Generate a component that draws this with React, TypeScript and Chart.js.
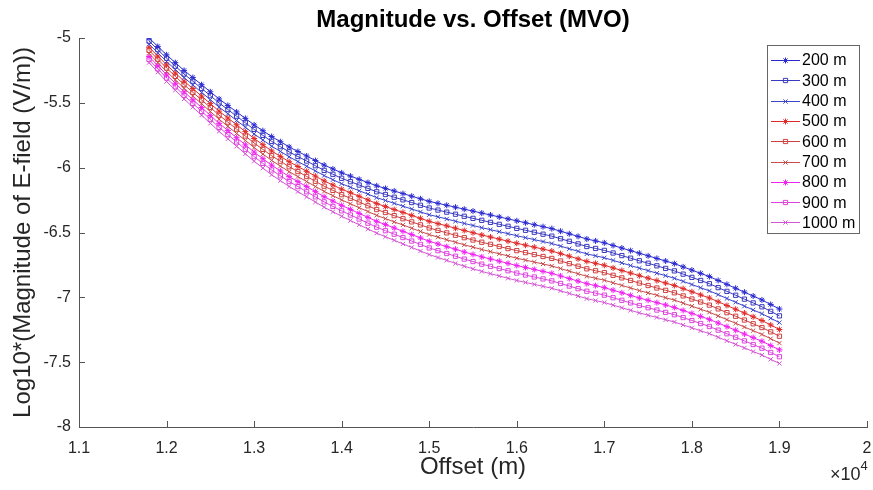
import React, { useEffect, useRef } from "react";
import { Chart, registerables } from "chart.js";

Chart.register(...registerables);

// Offsets (m)
const OFFSETS = [
  11800, 11900, 12000, 12100, 12200, 12300, 12400, 12500, 12600, 12700,
  12800, 12900, 13000, 13100, 13200, 13300, 13400, 13500, 13600, 13700,
  13800, 13900, 14000, 14100, 14200, 14300, 14400, 14500, 14600, 14700,
  14800, 14900, 15000, 15100, 15200, 15300, 15400, 15500, 15600, 15700,
  15800, 15900, 16000, 16100, 16200, 16300, 16400, 16500, 16600, 16700,
  16800, 16900, 17000, 17100, 17200, 17300, 17400, 17500, 17600, 17700,
  17800, 17900, 18000, 18100, 18200, 18300, 18400, 18500, 18600, 18700,
  18800, 18900, 19000,
];

const S200 = [
  -5.000, -5.065, -5.130, -5.190, -5.250, -5.305, -5.360, -5.415, -5.470, -5.520,
  -5.570, -5.620, -5.670, -5.715, -5.760, -5.800, -5.840, -5.875, -5.910, -5.945,
  -5.980, -6.010, -6.040, -6.065, -6.090, -6.115, -6.140, -6.160, -6.180, -6.200,
  -6.220, -6.240, -6.260, -6.275, -6.290, -6.305, -6.320, -6.335, -6.350, -6.365,
  -6.380, -6.395, -6.410, -6.425, -6.440, -6.455, -6.470, -6.490, -6.510, -6.530,
  -6.550, -6.565, -6.580, -6.600, -6.620, -6.640, -6.660, -6.680, -6.700, -6.720,
  -6.740, -6.765, -6.790, -6.815, -6.840, -6.870, -6.900, -6.930, -6.960, -6.990,
  -7.020, -7.055, -7.090,
];
const S300 = [
  -5.024, -5.090, -5.156, -5.217, -5.278, -5.333, -5.389, -5.445, -5.501, -5.552,
  -5.603, -5.654, -5.705, -5.751, -5.797, -5.838, -5.878, -5.914, -5.949, -5.985,
  -6.021, -6.051, -6.082, -6.108, -6.134, -6.160, -6.186, -6.207, -6.228, -6.248,
  -6.269, -6.290, -6.311, -6.327, -6.343, -6.359, -6.375, -6.391, -6.406, -6.422,
  -6.437, -6.452, -6.468, -6.483, -6.498, -6.513, -6.528, -6.548, -6.568, -6.588,
  -6.608, -6.623, -6.638, -6.658, -6.678, -6.698, -6.718, -6.737, -6.757, -6.777,
  -6.796, -6.821, -6.846, -6.870, -6.895, -6.925, -6.954, -6.984, -7.014, -7.043,
  -7.073, -7.108, -7.143,
];
const S400 = [
  -5.048, -5.114, -5.181, -5.243, -5.305, -5.362, -5.419, -5.476, -5.533, -5.584,
  -5.636, -5.688, -5.740, -5.787, -5.834, -5.875, -5.916, -5.953, -5.989, -6.025,
  -6.061, -6.093, -6.124, -6.151, -6.178, -6.204, -6.231, -6.253, -6.275, -6.297,
  -6.319, -6.341, -6.363, -6.379, -6.396, -6.413, -6.430, -6.446, -6.463, -6.478,
  -6.494, -6.509, -6.525, -6.540, -6.555, -6.570, -6.585, -6.605, -6.625, -6.645,
  -6.665, -6.680, -6.695, -6.715, -6.735, -6.755, -6.775, -6.794, -6.814, -6.833,
  -6.853, -6.877, -6.901, -6.926, -6.950, -6.979, -7.009, -7.038, -7.068, -7.097,
  -7.126, -7.161, -7.195,
];
const S500 = [
  -5.071, -5.139, -5.207, -5.270, -5.333, -5.390, -5.448, -5.506, -5.564, -5.617,
  -5.669, -5.722, -5.775, -5.823, -5.871, -5.913, -5.954, -5.991, -6.028, -6.065,
  -6.102, -6.134, -6.166, -6.193, -6.221, -6.249, -6.277, -6.300, -6.323, -6.345,
  -6.368, -6.391, -6.414, -6.432, -6.449, -6.467, -6.485, -6.502, -6.519, -6.535,
  -6.551, -6.567, -6.583, -6.598, -6.613, -6.628, -6.643, -6.663, -6.683, -6.703,
  -6.723, -6.738, -6.753, -6.773, -6.793, -6.813, -6.833, -6.852, -6.871, -6.890,
  -6.909, -6.933, -6.957, -6.981, -7.005, -7.034, -7.063, -7.092, -7.121, -7.150,
  -7.179, -7.213, -7.248,
];
const S600 = [
  -5.095, -5.164, -5.232, -5.296, -5.360, -5.419, -5.478, -5.536, -5.595, -5.649,
  -5.703, -5.756, -5.810, -5.859, -5.908, -5.950, -5.993, -6.030, -6.068, -6.105,
  -6.143, -6.175, -6.208, -6.236, -6.265, -6.294, -6.323, -6.346, -6.370, -6.394,
  -6.418, -6.441, -6.465, -6.484, -6.503, -6.521, -6.540, -6.558, -6.575, -6.591,
  -6.608, -6.624, -6.640, -6.655, -6.670, -6.685, -6.700, -6.720, -6.740, -6.760,
  -6.780, -6.795, -6.810, -6.830, -6.850, -6.870, -6.890, -6.909, -6.928, -6.946,
  -6.965, -6.989, -7.013, -7.036, -7.060, -7.089, -7.118, -7.146, -7.175, -7.204,
  -7.233, -7.266, -7.300,
];
const S700 = [
  -5.119, -5.189, -5.258, -5.323, -5.388, -5.447, -5.507, -5.567, -5.626, -5.681,
  -5.736, -5.790, -5.845, -5.895, -5.944, -5.988, -6.031, -6.069, -6.107, -6.145,
  -6.183, -6.216, -6.249, -6.279, -6.309, -6.338, -6.368, -6.393, -6.418, -6.442,
  -6.467, -6.492, -6.516, -6.536, -6.556, -6.575, -6.595, -6.613, -6.631, -6.648,
  -6.664, -6.681, -6.698, -6.713, -6.728, -6.743, -6.758, -6.778, -6.798, -6.818,
  -6.838, -6.853, -6.868, -6.888, -6.908, -6.928, -6.948, -6.966, -6.984, -7.003,
  -7.021, -7.045, -7.068, -7.092, -7.115, -7.143, -7.172, -7.200, -7.229, -7.257,
  -7.286, -7.319, -7.353,
];
const S800 = [
  -5.143, -5.213, -5.284, -5.349, -5.415, -5.476, -5.536, -5.597, -5.658, -5.713,
  -5.769, -5.824, -5.880, -5.931, -5.981, -6.025, -6.069, -6.108, -6.146, -6.185,
  -6.224, -6.258, -6.291, -6.322, -6.353, -6.383, -6.414, -6.439, -6.465, -6.491,
  -6.516, -6.542, -6.568, -6.588, -6.609, -6.629, -6.650, -6.669, -6.688, -6.704,
  -6.721, -6.738, -6.755, -6.770, -6.785, -6.800, -6.815, -6.835, -6.855, -6.875,
  -6.895, -6.910, -6.925, -6.945, -6.965, -6.985, -7.005, -7.023, -7.041, -7.059,
  -7.078, -7.101, -7.124, -7.147, -7.170, -7.198, -7.226, -7.254, -7.283, -7.311,
  -7.339, -7.372, -7.405,
];
const S900 = [
  -5.166, -5.238, -5.309, -5.376, -5.443, -5.504, -5.566, -5.627, -5.689, -5.745,
  -5.802, -5.858, -5.915, -5.967, -6.018, -6.063, -6.107, -6.146, -6.186, -6.225,
  -6.264, -6.299, -6.333, -6.365, -6.396, -6.428, -6.459, -6.486, -6.513, -6.539,
  -6.566, -6.592, -6.619, -6.640, -6.662, -6.683, -6.705, -6.724, -6.744, -6.761,
  -6.778, -6.795, -6.813, -6.828, -6.843, -6.858, -6.873, -6.893, -6.913, -6.933,
  -6.953, -6.968, -6.983, -7.003, -7.023, -7.043, -7.063, -7.080, -7.098, -7.116,
  -7.134, -7.156, -7.179, -7.202, -7.225, -7.253, -7.281, -7.308, -7.336, -7.364,
  -7.392, -7.425, -7.458,
];
const S1000 = [
  -5.190, -5.263, -5.335, -5.403, -5.470, -5.533, -5.595, -5.658, -5.720, -5.778,
  -5.835, -5.893, -5.950, -6.003, -6.055, -6.100, -6.145, -6.185, -6.225, -6.265,
  -6.305, -6.340, -6.375, -6.408, -6.440, -6.473, -6.505, -6.533, -6.560, -6.588,
  -6.615, -6.643, -6.670, -6.693, -6.715, -6.738, -6.760, -6.780, -6.800, -6.818,
  -6.835, -6.853, -6.870, -6.885, -6.900, -6.915, -6.930, -6.950, -6.970, -6.990,
  -7.010, -7.025, -7.040, -7.060, -7.080, -7.100, -7.120, -7.138, -7.155, -7.173,
  -7.190, -7.213, -7.235, -7.258, -7.280, -7.308, -7.335, -7.363, -7.390, -7.418,
  -7.445, -7.478, -7.510,
];

const SERIES = [S200, S300, S400, S500, S600, S700, S800, S900, S1000];
const SERIES_NAMES = ["200 m", "300 m", "400 m", "500 m", "600 m", "700 m", "800 m", "900 m", "1000 m"];

const TITLE = "Magnitude vs. Offset (MVO)";
const X_TITLE = "Offset (m)";
const Y_TITLE = "Log10*(Magnitude of E-field (V/m))";
const X_MIN = 11000;
const X_MAX = 20000;
const X_STEP = 1000;
const Y_MIN = -8;
const Y_MAX = -5;
const Y_STEP = 0.5;

const COLORS = ["#2a2ad0", "#3a3ac0", "#3a44cc", "#e02a2a", "#d04040", "#c84c4c", "#ee22ee", "#dd44dd", "#d455d4"];
const MARKERS = ["star", "rect", "crossRot", "star", "rect", "crossRot", "star", "rect", "crossRot"];

const FONT = '"Liberation Sans", Arial, Helvetica, sans-serif';
const TEXT_COLOR = "#262626";
const AXIS_COLOR = "#555555";

function drawMarker(ctx: CanvasRenderingContext2D, style: string, x: number, y: number, r: number, color: string) {
  ctx.save();
  ctx.strokeStyle = color;
  ctx.lineWidth = 1;
  ctx.beginPath();
  if (style === "star") {
    ctx.moveTo(x - r, y); ctx.lineTo(x + r, y);
    ctx.moveTo(x, y - r); ctx.lineTo(x, y + r);
    const d = r * Math.SQRT1_2;
    ctx.moveTo(x - d, y - d); ctx.lineTo(x + d, y + d);
    ctx.moveTo(x - d, y + d); ctx.lineTo(x + d, y - d);
  } else if (style === "rect") {
    const s = r * Math.SQRT1_2;
    ctx.rect(x - s, y - s, 2 * s, 2 * s);
  } else {
    const d = r * Math.SQRT1_2;
    ctx.moveTo(x - d, y - d); ctx.lineTo(x + d, y + d);
    ctx.moveTo(x - d, y + d); ctx.lineTo(x + d, y - d);
  }
  ctx.stroke();
  ctx.restore();
}

const overlayPlugin = {
  id: "overlay",
  afterDraw(chart: any) {
    const ctx: CanvasRenderingContext2D = chart.ctx;
    const area = chart.chartArea;
    const xs = chart.scales.x;
    const ys = chart.scales.y;
    ctx.save();

    // inward tick marks
    ctx.strokeStyle = AXIS_COLOR;
    ctx.lineWidth = 1;
    ctx.beginPath();
    xs.ticks.forEach((t: any) => {
      const px = Math.round(xs.getPixelForValue(t.value)) + 0.5;
      ctx.moveTo(px, area.bottom);
      ctx.lineTo(px, area.bottom - 6);
    });
    ys.ticks.forEach((t: any) => {
      const py = Math.round(ys.getPixelForValue(t.value)) + 0.5;
      ctx.moveTo(area.left, py);
      ctx.lineTo(area.left + 6, py);
    });
    ctx.stroke();

    // title
    ctx.fillStyle = "#000";
    ctx.textAlign = "center";
    ctx.textBaseline = "middle";
    ctx.font = `bold 24px ${FONT}`;
    ctx.fillText(TITLE, (area.left + area.right) / 2, 20);

    // x title
    ctx.fillStyle = TEXT_COLOR;
    ctx.font = `24px ${FONT}`;
    ctx.fillText(X_TITLE, (area.left + area.right) / 2, 467);

    // y title
    ctx.save();
    ctx.translate(23, (area.top + area.bottom) / 2);
    ctx.rotate(-Math.PI / 2);
    ctx.fillText(Y_TITLE, 0, 0);
    ctx.restore();

    // exponent
    ctx.textAlign = "left";
    ctx.textBaseline = "alphabetic";
    ctx.font = `18px ${FONT}`;
    const base = "\u00d710";
    ctx.fillText(base, 830, 480);
    const w = ctx.measureText(base).width;
    ctx.font = `13px ${FONT}`;
    ctx.fillText("4", 830 + w, 470);

    // legend
    const lx = 767, ly = 45, lw = 92, lh = 188;
    ctx.fillStyle = "#fff";
    ctx.fillRect(lx, ly, lw, lh);
    ctx.strokeStyle = "#666";
    ctx.lineWidth = 1;
    ctx.strokeRect(lx + 0.5, ly + 0.5, lw, lh);
    ctx.font = `16px ${FONT}`;
    ctx.textBaseline = "middle";
    chart.data.datasets.forEach((ds: any, i: number) => {
      const cy = 60 + i * 20.3;
      ctx.strokeStyle = ds.borderColor;
      ctx.lineWidth = 1;
      ctx.beginPath();
      ctx.moveTo(771, Math.round(cy) + 0.5);
      ctx.lineTo(800, Math.round(cy) + 0.5);
      ctx.stroke();
      drawMarker(ctx, ds.pointStyle, 785.5, Math.round(cy) + 0.5, 3, ds.borderColor);
      ctx.fillStyle = "#000";
      ctx.fillText(ds.label, 802, cy + 1);
    });
    ctx.restore();
  },
};

export default function App() {
  const ref = useRef<HTMLCanvasElement | null>(null);
  useEffect(() => {
    if (!ref.current) return;
    const datasets = SERIES.map((s, i) => ({
      label: SERIES_NAMES[i],
      data: OFFSETS.map((x, j) => ({ x, y: s[j] })),
      borderColor: COLORS[i],
      backgroundColor: "rgba(0,0,0,0)",
      pointBorderColor: COLORS[i],
      pointBackgroundColor: "rgba(0,0,0,0)",
      pointStyle: MARKERS[i],
      pointRadius: 3,
      pointBorderWidth: 1,
      borderWidth: 1,
      tension: 0,
      fill: false,
    }));
    const chart = new Chart(ref.current, {
      type: "line",
      data: { datasets },
      options: {
        animation: false,
        responsive: false,
        devicePixelRatio: 1,
        layout: { padding: { top: 38, right: 6, left: 0, bottom: 0 } },
        plugins: {
          legend: { display: false },
          title: { display: false },
          tooltip: { enabled: false },
        },
        events: [],
        scales: {
          x: {
            type: "linear",
            min: X_MIN,
            max: X_MAX,
            grid: { display: false, drawTicks: false },
            border: { display: true, color: AXIS_COLOR, width: 1 },
            ticks: {
              stepSize: X_STEP,
              autoSkip: false,
              maxRotation: 0,
              padding: 12,
              color: TEXT_COLOR,
              font: { family: FONT, size: 16 },
              callback: (v: any) => String(parseFloat((Number(v) / 10000).toFixed(2))),
            },
            afterFit: (s: any) => { s.height = 63; s.paddingLeft = 0; s.paddingRight = 0; },
          },
          y: {
            type: "linear",
            min: Y_MIN,
            max: Y_MAX,
            grid: { display: false, drawTicks: false },
            border: { display: true, color: AXIS_COLOR, width: 1 },
            ticks: {
              stepSize: Y_STEP,
              autoSkip: false,
              padding: 8,
              color: TEXT_COLOR,
              font: { family: FONT, size: 16 },
              callback: (v: any) => String(parseFloat(Number(v).toFixed(2))),
            },
            afterFit: (s: any) => { s.width = 79; s.paddingTop = 0; s.paddingBottom = 0; },
          },
        },
      } as any,
      plugins: [overlayPlugin],
    });
    return () => chart.destroy();
  }, []);
  return (
    <div style={{ position: "fixed", left: 0, top: 0, width: 873, height: 490, background: "#fff" }}>
      <canvas ref={ref} width={873} height={490} style={{ display: "block" }} />
    </div>
  );
}
